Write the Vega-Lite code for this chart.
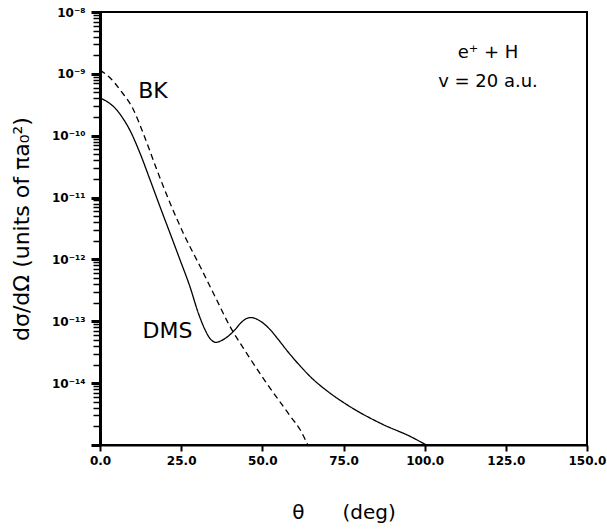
{
  "$schema": "https://vega.github.io/schema/vega-lite/v6.json",
  "width": 487,
  "height": 433,
  "autosize": {"type": "none"},
  "padding": {"left": 100, "top": 12, "right": 20, "bottom": 86},
  "background": "white",
  "config": {
    "view": {"stroke": "black", "strokeWidth": 2},
    "font": "DejaVu Sans"
  },
  "datasets": {
    "curves": [
      {"theta": 0.0, "sigma": 4.07e-10, "model": "DMS"},
      {"theta": 2.5, "sigma": 3.47e-10, "model": "DMS"},
      {"theta": 5.1, "sigma": 2.63e-10, "model": "DMS"},
      {"theta": 7.2, "sigma": 1.86e-10, "model": "DMS"},
      {"theta": 9.2, "sigma": 1.23e-10, "model": "DMS"},
      {"theta": 12.3, "sigma": 5.25e-11, "model": "DMS"},
      {"theta": 15.4, "sigma": 1.95e-11, "model": "DMS"},
      {"theta": 18.5, "sigma": 7.08e-12, "model": "DMS"},
      {"theta": 21.6, "sigma": 2.63e-12, "model": "DMS"},
      {"theta": 24.6, "sigma": 1.0e-12, "model": "DMS"},
      {"theta": 27.7, "sigma": 3.63e-13, "model": "DMS"},
      {"theta": 30.3, "sigma": 1.35e-13, "model": "DMS"},
      {"theta": 32.2, "sigma": 7.59e-14, "model": "DMS"},
      {"theta": 33.9, "sigma": 5.25e-14, "model": "DMS"},
      {"theta": 35.7, "sigma": 4.57e-14, "model": "DMS"},
      {"theta": 37.5, "sigma": 4.9e-14, "model": "DMS"},
      {"theta": 39.5, "sigma": 5.75e-14, "model": "DMS"},
      {"theta": 41.5, "sigma": 7.24e-14, "model": "DMS"},
      {"theta": 43.5, "sigma": 9.55e-14, "model": "DMS"},
      {"theta": 45.0, "sigma": 1.1e-13, "model": "DMS"},
      {"theta": 46.5, "sigma": 1.15e-13, "model": "DMS"},
      {"theta": 48.5, "sigma": 1.07e-13, "model": "DMS"},
      {"theta": 50.5, "sigma": 9.12e-14, "model": "DMS"},
      {"theta": 52.5, "sigma": 7.24e-14, "model": "DMS"},
      {"theta": 55.0, "sigma": 5.01e-14, "model": "DMS"},
      {"theta": 58.0, "sigma": 3.16e-14, "model": "DMS"},
      {"theta": 61.6, "sigma": 1.91e-14, "model": "DMS"},
      {"theta": 65.5, "sigma": 1.17e-14, "model": "DMS"},
      {"theta": 69.8, "sigma": 7.59e-15, "model": "DMS"},
      {"theta": 77.0, "sigma": 4.17e-15, "model": "DMS"},
      {"theta": 87.2, "sigma": 2.14e-15, "model": "DMS"},
      {"theta": 95.5, "sigma": 1.38e-15, "model": "DMS"},
      {"theta": 100.5, "sigma": 1.0e-15, "model": "DMS"},
      {"theta": 0.0, "sigma": 1.15e-9, "model": "BK"},
      {"theta": 3.0, "sigma": 8.71e-10, "model": "BK"},
      {"theta": 6.2, "sigma": 5.5e-10, "model": "BK"},
      {"theta": 10.3, "sigma": 2.63e-10, "model": "BK"},
      {"theta": 13.3, "sigma": 1.1e-10, "model": "BK"},
      {"theta": 17.5, "sigma": 2.82e-11, "model": "BK"},
      {"theta": 21.6, "sigma": 8.13e-12, "model": "BK"},
      {"theta": 25.7, "sigma": 2.63e-12, "model": "BK"},
      {"theta": 30.8, "sigma": 7.76e-13, "model": "BK"},
      {"theta": 35.9, "sigma": 2.24e-13, "model": "BK"},
      {"theta": 40.0, "sigma": 8.32e-14, "model": "BK"},
      {"theta": 44.1, "sigma": 3.72e-14, "model": "BK"},
      {"theta": 46.2, "sigma": 2.51e-14, "model": "BK"},
      {"theta": 51.3, "sigma": 1.0e-14, "model": "BK"},
      {"theta": 56.5, "sigma": 4.17e-15, "model": "BK"},
      {"theta": 59.0, "sigma": 2.75e-15, "model": "BK"},
      {"theta": 61.6, "sigma": 1.78e-15, "model": "BK"},
      {"theta": 64.0, "sigma": 1.0e-15, "model": "BK"}
    ],
    "notes": [
      {"theta": 16.3, "sigma": 5.25e-10, "text": "BK", "kind": "curve"},
      {"theta": 20.8, "sigma": 6.9e-14, "text": "DMS", "kind": "curve"},
      {"theta": 119.5, "sigma": 2.19e-9, "text": "e⁺ + H", "kind": "box"},
      {"theta": 119.5, "sigma": 7.4e-10, "text": "v = 20 a.u.", "kind": "box"}
    ]
  },
  "layer": [
    {
      "data": {"name": "curves"},
      "mark": {"type": "line", "strokeWidth": 1.3, "clip": true, "interpolate": "monotone"},
      "encoding": {
        "x": {
          "field": "theta", "type": "quantitative",
          "scale": {"domain": [0, 150], "nice": false},
          "axis": {
            "title": "θ\u00a0\u00a0\u00a0\u00a0\u00a0\u00a0(deg)",
            "titleFontSize": 20, "titleFontWeight": "normal", "titleColor": "black",
            "titlePadding": 36,
            "values": [0, 25, 50, 75, 100, 125, 150],
            "format": ".1f",
            "labelFontSize": 12, "labelFontWeight": "bold", "labelColor": "black",
            "labelPadding": 4, "labelFlush": false, "labelBound": false,
            "tickSize": 6, "tickWidth": 2, "tickColor": "black",
            "domainColor": "black", "domainWidth": 2,
            "grid": false
          }
        },
        "y": {
          "field": "sigma", "type": "quantitative",
          "scale": {"type": "log", "domain": [1e-15, 1e-8], "nice": false},
          "axis": {
            "title": "dσ/dΩ (units of πa₀²)",
            "titleFontSize": 22, "titleFontWeight": "normal", "titleColor": "black",
            "titlePadding": 18,
            "values": [1e-15, 2e-15, 3e-15, 4e-15, 5e-15, 6e-15, 7e-15, 8e-15, 9e-15,
                       1e-14, 2e-14, 3e-14, 4e-14, 5e-14, 6e-14, 7e-14, 8e-14, 9e-14,
                       1e-13, 2e-13, 3e-13, 4e-13, 5e-13, 6e-13, 7e-13, 8e-13, 9e-13,
                       1e-12, 2e-12, 3e-12, 4e-12, 5e-12, 6e-12, 7e-12, 8e-12, 9e-12,
                       1e-11, 2e-11, 3e-11, 4e-11, 5e-11, 6e-11, 7e-11, 8e-11, 9e-11,
                       1e-10, 2e-10, 3e-10, 4e-10, 5e-10, 6e-10, 7e-10, 8e-10, 9e-10,
                       1e-9, 2e-9, 3e-9, 4e-9, 5e-9, 6e-9, 7e-9, 8e-9, 9e-9, 1e-8],
            "labelExpr": "abs(log(datum.value)/LN10 - round(log(datum.value)/LN10)) > 0.001 || round(log(datum.value)/LN10) == -15 ? '' : (-round(log(datum.value)/LN10) < 10 ? '10⁻' + ['⁰','¹','²','³','⁴','⁵','⁶','⁷','⁸','⁹'][-round(log(datum.value)/LN10)] : '10⁻¹' + ['⁰','¹','²','³','⁴','⁵','⁶','⁷','⁸','⁹'][-round(log(datum.value)/LN10) - 10])",
            "labelFontSize": 12, "labelFontWeight": "bold", "labelColor": "black",
            "labelPadding": 6, "labelOverlap": false, "labelBound": false, "labelFlush": false,
            "tickSize": {"condition": {"test": "abs(log(datum.value)/LN10 - round(log(datum.value)/LN10)) < 0.001", "value": 9}, "value": 7},
            "tickWidth": {"condition": {"test": "abs(log(datum.value)/LN10 - round(log(datum.value)/LN10)) < 0.001", "value": 3}, "value": 1.5},
            "tickColor": "black",
            "domainColor": "black", "domainWidth": 3,
            "grid": false
          }
        },
        "color": {"field": "model", "type": "nominal", "scale": {"range": ["black", "black"]}, "legend": null},
        "strokeDash": {"field": "model", "type": "nominal", "scale": {"domain": ["BK", "DMS"], "range": [[6, 4], [1, 0]]}, "legend": null}
      }
    },
    {
      "data": {"name": "notes"},
      "transform": [{"filter": "datum.kind == 'curve'"}],
      "mark": {"type": "text", "fontSize": 22, "color": "black", "align": "center", "baseline": "middle"},
      "encoding": {
        "x": {"field": "theta", "type": "quantitative"},
        "y": {"field": "sigma", "type": "quantitative"},
        "text": {"field": "text"}
      }
    },
    {
      "data": {"name": "notes"},
      "transform": [{"filter": "datum.kind == 'box'"}],
      "mark": {"type": "text", "fontSize": 18, "color": "black", "align": "center", "baseline": "middle"},
      "encoding": {
        "x": {"field": "theta", "type": "quantitative"},
        "y": {"field": "sigma", "type": "quantitative"},
        "text": {"field": "text"}
      }
    }
  ]
}
